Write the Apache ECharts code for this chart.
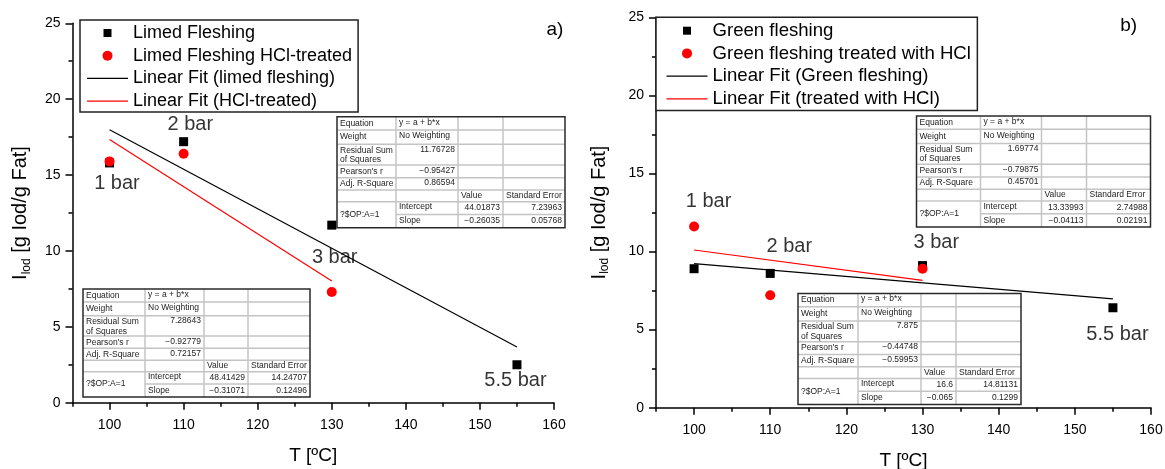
<!DOCTYPE html>
<html>
<head>
<meta charset="utf-8">
<script src="https://cdn.jsdelivr.net/npm/echarts@6/dist/echarts.min.js"></script>
<style>html,body{margin:0;padding:0;background:#fff;}#c{width:1165px;height:469px;}</style>
</head>
<body>
<div id="c"></div>
<script>
// ---------- data ----------
const temps = [100, 110, 130, 155];
const tempsHCl = [100, 110, 130];
const limedFleshing = [15.8, 17.2, 11.7, 2.5];
const limedFleshingHCl = [15.9, 16.4, 7.3];
const greenFleshing = [8.9, 8.6, 9.1, 6.4];
const greenFleshingHCl = [11.6, 7.2, 8.9];

const xMajorTicks = [100, 110, 120, 130, 140, 150, 160];
const xMinorTicks = [95, 105, 115, 125, 135, 145, 155];

const annotLeft = [[101.0, 14.45, '1 bar'], [110.9, 18.3, '2 bar'], [130.4, 9.6, '3 bar'], [154.8, 1.45, '5.5 bar']];
const annotRight = [[101.9, 13.2, '1 bar'], [112.5, 10.35, '2 bar'], [131.8, 10.6, '3 bar'], [155.6, 4.7, '5.5 bar']];

// fit statistics: [RSS, Pearson r, adj R2] and [intercept, intercept err, slope, slope err]
const tableRowLabels = ['Equation', 'Weight', 'Residual Sum\nof Squares', "Pearson's r", 'Adj. R-Square'];
const fitLimedStats = ['11.76728', '-0.95427', '0.86594'];
const fitLimedParams = ['44.01873', '7.23963', '-0.26035', '0.05768'];
const fitLimedHClStats = ['7.28643', '-0.92779', '0.72157'];
const fitLimedHClParams = ['48.41429', '14.24707', '-0.31071', '0.12496'];
const fitGreenStats = ['1.69774', '-0.79875', '0.45701'];
const fitGreenParams = ['13.33993', '2.74988', '-0.04113', '0.02191'];
const fitGreenHClStats = ['7.875', '-0.44748', '-0.59953'];
const fitGreenHClParams = ['16.6', '14.81131', '-0.065', '0.1299'];

// ---------- helpers ----------
const FONT = '"Liberation Sans", Arial, sans-serif';
const pts = (xs, ys) => xs.map((x, i) => [x, ys[i]]);
function fitLine(xs, params) {
  const a = parseFloat(params[0]), b = parseFloat(params[2]);
  const x0 = Math.min(...xs), x1 = Math.max(...xs);
  return [[x0, a + b * x0], [x1, a + b * x1]];
}
const fmt = s => s.replace('-', '\u2212');

function makeTable(x0, y0, colW, rowH, stats, params) {
  const els = [];
  const cx = [x0]; colW.forEach(w => cx.push(cx[cx.length - 1] + w));
  const ry = [y0]; rowH.forEach(h => ry.push(ry[ry.length - 1] + h));
  const W = cx[4] - x0, H = ry[8] - y0;
  const grid = '#c4c4c4';
  els.push({type: 'rect', shape: {x: x0, y: y0, width: W, height: H}, style: {fill: '#fff'}});
  for (let i = 1; i < 8; i++) {
    els.push({type: 'line', shape: {x1: i === 7 ? cx[1] : x0, y1: ry[i], x2: cx[4], y2: ry[i]}, style: {stroke: grid, lineWidth: 1.5}});
  }
  for (let j = 1; j < 4; j++) {
    els.push({type: 'line', shape: {x1: cx[j], y1: y0, x2: cx[j], y2: ry[8]}, style: {stroke: grid, lineWidth: 1.5}});
  }
  els.push({type: 'rect', shape: {x: x0, y: y0, width: W, height: H}, style: {fill: null, stroke: '#2a2a2a', lineWidth: 1.5}});
  const f = '8.5px ' + FONT;
  const txt = (x, y, s, align) => els.push({type: 'text', x: x, y: y, style: {text: s, font: f, fill: '#222', textAlign: align || 'left', textVerticalAlign: 'middle'}});
  const mid = i => (ry[i] + ry[i + 1]) / 2;
  txt(cx[0] + 3, mid(0), tableRowLabels[0]);
  txt(cx[0] + 3, mid(1), tableRowLabels[1]);
  const rl = tableRowLabels[2].split('\n');
  txt(cx[0] + 3, ry[2] + 6, rl[0]);
  txt(cx[0] + 3, ry[2] + 15.5, rl[1]);
  txt(cx[0] + 3, mid(3), tableRowLabels[3]);
  txt(cx[0] + 3, mid(4), tableRowLabels[4]);
  txt(cx[0] + 3, ry[7], '?$OP:A=1');
  txt(cx[1] + 3, mid(0) - 1, 'y = a + b*x');
  txt(cx[1] + 3, mid(1) - 1, 'No Weighting');
  txt(cx[2] - 3, ry[2] + 5, fmt(stats[0]), 'right');
  txt(cx[2] - 3, mid(3) - 1, fmt(stats[1]), 'right');
  txt(cx[2] - 3, mid(4) - 1, fmt(stats[2]), 'right');
  txt(cx[2] + 3, mid(5), 'Value');
  txt(cx[3] + 3, mid(5), 'Standard Error');
  txt(cx[1] + 3, mid(6) - 1, 'Intercept');
  txt(cx[1] + 3, mid(7), 'Slope');
  txt(cx[3] - 3, mid(6), fmt(params[0]), 'right');
  txt(cx[4] - 3, mid(6), fmt(params[1]), 'right');
  txt(cx[3] - 3, mid(7), fmt(params[2]), 'right');
  txt(cx[4] - 3, mid(7), fmt(params[3]), 'right');
  return {type: 'group', z: 100, children: els};
}

const ROWS = [13.3, 14.3, 20.7, 12.7, 12.3, 11.7, 12.7, 13.3];

// ---------- axes ----------
const axisLineStyle = {color: '#000', width: 1.5};
function xAxes(g) {
  return [{
    gridIndex: g, type: 'value', min: 95, max: 160, position: 'bottom', offset: 0,
    axisLine: {show: true, onZero: false, lineStyle: axisLineStyle},
    axisTick: {show: true, inside: false, length: 7, customValues: xMajorTicks, lineStyle: axisLineStyle},
    axisLabel: {customValues: xMajorTicks, fontSize: 14, color: '#000', fontFamily: FONT, margin: 15},
    splitLine: {show: false},
    name: 'T [ºC]', nameLocation: 'middle', nameGap: 44,
    nameTextStyle: {fontSize: 19, color: '#000', fontFamily: FONT}
  }, {
    gridIndex: g, type: 'value', min: 95, max: 160, position: 'bottom', offset: 0,
    axisLine: {show: false, onZero: false},
    axisTick: {show: true, inside: false, length: 4, customValues: xMinorTicks, lineStyle: axisLineStyle},
    axisLabel: {show: false},
    splitLine: {show: false}
  }];
}
function yAxis(g, gap) {
  return {
    gridIndex: g, type: 'value', min: 0, max: 25, interval: 5,
    axisLine: {show: true, onZero: false, lineStyle: axisLineStyle},
    axisTick: {show: true, inside: false, length: 7, lineStyle: axisLineStyle},
    minorTick: {show: true, splitNumber: 2, length: 4, lineStyle: axisLineStyle},
    axisLabel: {fontSize: 14, color: '#000', fontFamily: FONT, margin: 12},
    splitLine: {show: false},
    name: '{a|I}{b|lod}{a| [g Iod/g Fat]}', nameLocation: 'middle', nameRotate: 90, nameGap: gap,
    nameTextStyle: {
      color: '#000', fontFamily: FONT,
      rich: {
        a: {fontSize: 20, fontFamily: FONT, color: '#000', lineHeight: 24},
        b: {fontSize: 12, fontFamily: FONT, color: '#000', lineHeight: 12, padding: [12, 0, 0, 0]}
      }
    }
  };
}

// ---------- series ----------
function scatter(name, xi, yi, data, symbol, size, color) {
  return {name, type: 'scatter', xAxisIndex: xi, yAxisIndex: yi, data, symbol, symbolSize: size,
    itemStyle: {color, opacity: 1}, z: 5, silent: true};
}
function fit(name, xi, yi, data, color) {
  return {name, type: 'line', xAxisIndex: xi, yAxisIndex: yi, data, symbol: 'none',
    lineStyle: {color, width: 1.2}, itemStyle: {color}, z: 3, silent: true};
}
function annot(xi, yi, arr) {
  return {type: 'scatter', xAxisIndex: xi, yAxisIndex: yi, symbolSize: 0, silent: true, z: 6,
    data: arr.map(d => ({value: [d[0], d[1]], name: d[2]})),
    label: {show: true, position: 'inside', formatter: p => p.name, fontSize: 20, color: '#000', fontFamily: FONT}};
}

const squareIcon = 'path://M0,0M10,10M1,1L9,1L9,9L1,9Z';
const lineIcon = 'path://M0,0L41,0L41,1.2L0,1.2Z';
function legend(left, top, names, pad, fs) {
  return {
    left, top, orient: 'vertical', itemWidth: 41, itemHeight: 10, itemGap: 2.7,
    symbolKeepAspect: true,
    padding: pad, borderColor: '#222', borderWidth: 1.5, backgroundColor: '#fff',
    textStyle: {fontSize: fs, lineHeight: 20, color: '#000', fontFamily: FONT},
    selectedMode: false,
    data: [{name: names[0], icon: squareIcon}, {name: names[1], icon: 'circle'},
           {name: names[2], icon: lineIcon}, {name: names[3], icon: lineIcon}]
  };
}

const namesL = ['Limed Fleshing', 'Limed Fleshing HCl-treated', 'Linear Fit (limed fleshing)', 'Linear Fit (HCl-treated)'];
const namesR = ['Green fleshing', 'Green fleshing treated with HCl', 'Linear Fit (Green fleshing)', 'Linear Fit (treated with HCl)'];

const option = {
  animation: false,
  backgroundColor: '#fff',
  grid: [
    {left: 72.5, top: 23.3, width: 481.5, height: 379.4, containLabel: false, outerBoundsMode: 'none'},
    {left: 656, top: 17.3, width: 495, height: 390.4, containLabel: false, outerBoundsMode: 'none'}
  ],
  xAxis: [...xAxes(0), ...xAxes(1)],
  yAxis: [yAxis(0, 40), yAxis(1, 45)],
  legend: [
    legend(80, 20, namesL, [3, 6, 1, 7], 18),
    legend(656, 17.3, namesR, [3.4, 6.5, 1.7, 10.5], 18.6)
  ],
  series: [
    fit(namesL[2], 0, 0, fitLine(temps, fitLimedParams), '#000'),
    fit(namesL[3], 0, 0, fitLine(tempsHCl, fitLimedHClParams), '#ff0000'),
    scatter(namesL[0], 0, 0, pts(temps, limedFleshing), 'rect', 9, '#000'),
    scatter(namesL[1], 0, 0, pts(tempsHCl, limedFleshingHCl), 'circle', 10, '#ff0000'),
    annot(0, 0, annotLeft),
    fit(namesR[2], 2, 1, fitLine(temps, fitGreenParams), '#000'),
    fit(namesR[3], 2, 1, fitLine(tempsHCl, fitGreenHClParams), '#ff0000'),
    scatter(namesR[0], 2, 1, pts(temps, greenFleshing), 'rect', 9, '#000'),
    scatter(namesR[1], 2, 1, pts(tempsHCl, greenFleshingHCl), 'circle', 10, '#ff0000'),
    annot(2, 1, annotRight)
  ],
  graphic: [
    makeTable(337, 116.7, [59, 62, 45, 62], ROWS, fitLimedStats, fitLimedParams),
    makeTable(83, 289, [62, 59, 44, 62], ROWS.map(h => h * 108 / 111), fitLimedHClStats, fitLimedHClParams),
    makeTable(916.5, 116, [64, 61, 45, 64], ROWS, fitGreenStats, fitGreenParams),
    makeTable(798, 293.5, [60, 63, 35, 65], ROWS, fitGreenHClStats, fitGreenHClParams),
    {type: 'text', x: 555, y: 30, z: 100, style: {text: 'a)', font: '19px ' + FONT, fill: '#000', textAlign: 'center', textVerticalAlign: 'middle'}},
    {type: 'text', x: 1128.6, y: 26, z: 100, style: {text: 'b)', font: '19px ' + FONT, fill: '#000', textAlign: 'center', textVerticalAlign: 'middle'}}
  ]
};

const chart = echarts.init(document.getElementById('c'), null, {renderer: 'canvas'});
chart.setOption(option);
</script>
</body>
</html>
